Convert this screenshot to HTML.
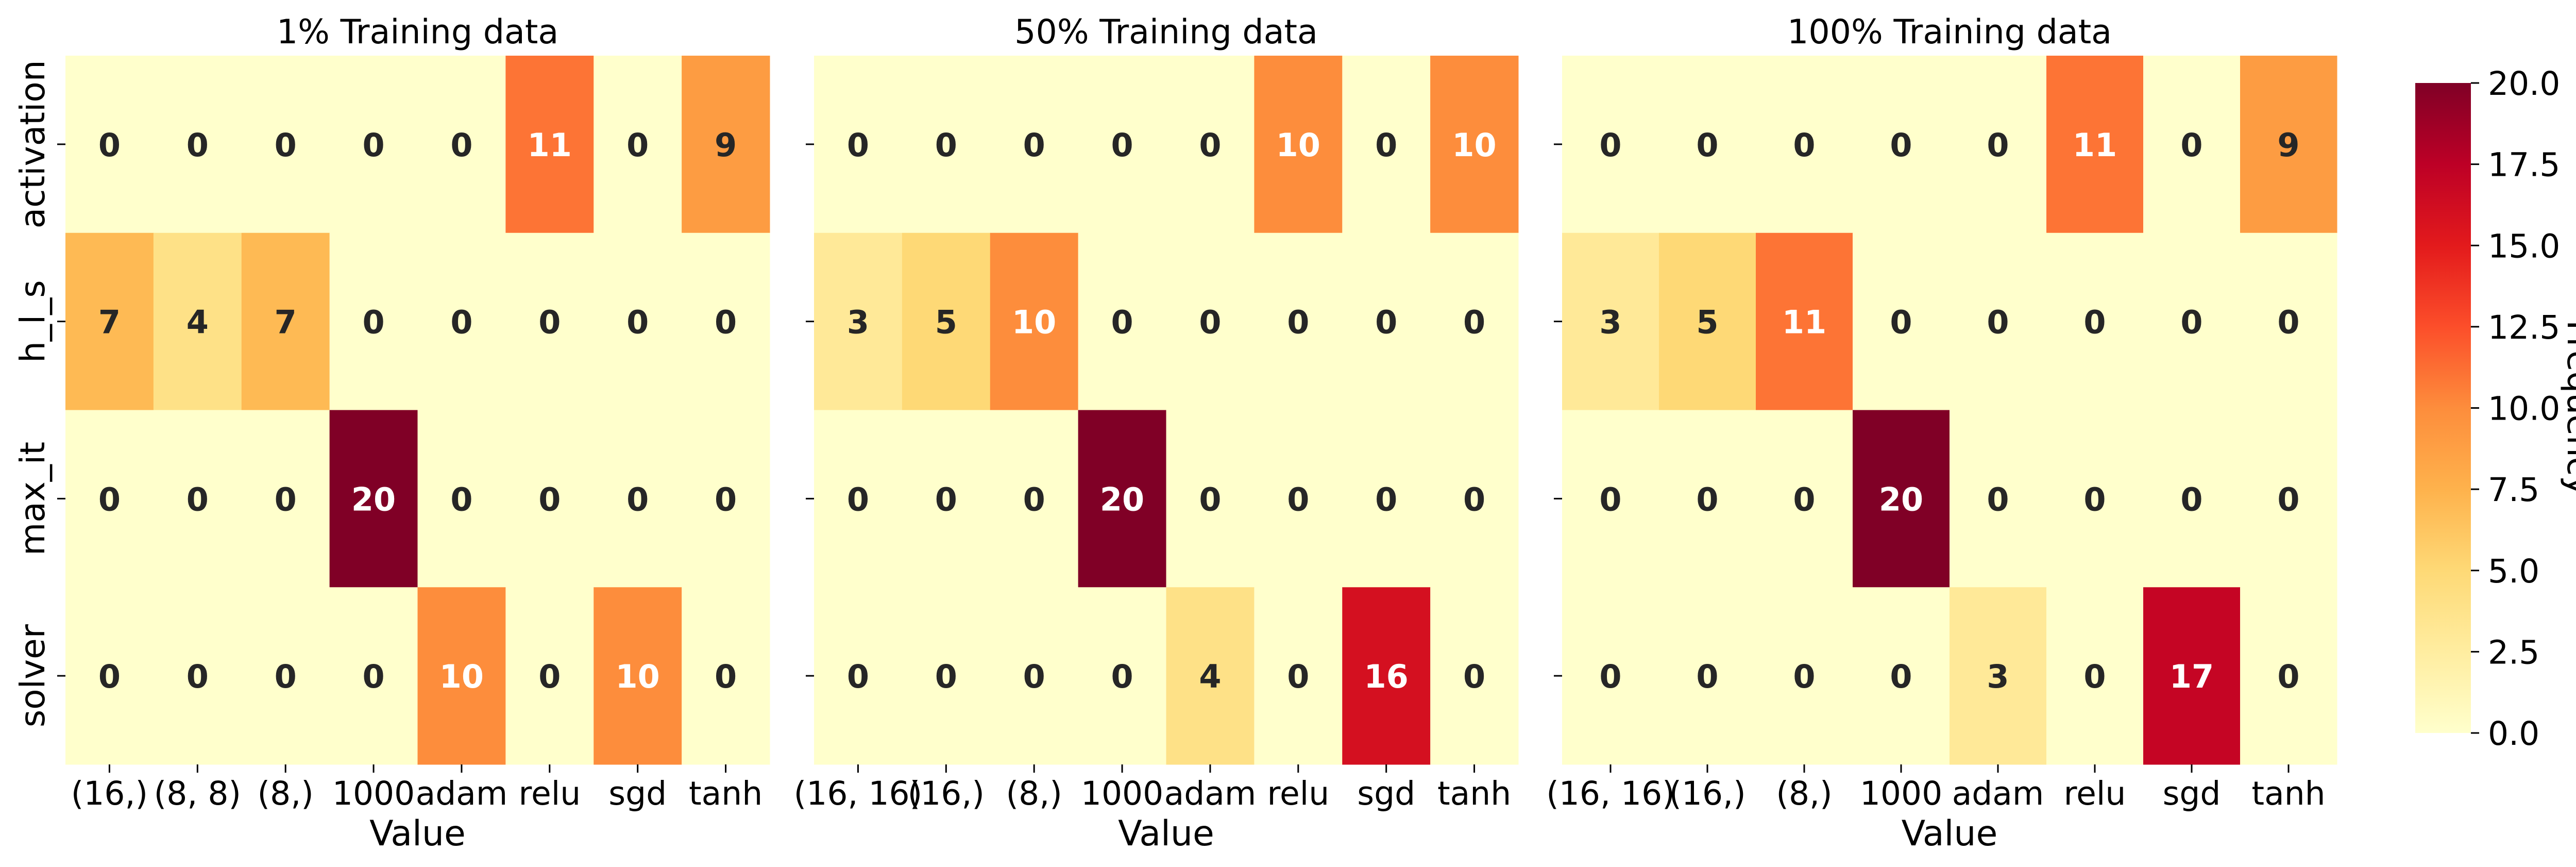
<!DOCTYPE html>
<html><head><meta charset="utf-8">
<style>
html,body{margin:0;padding:0;background:#fff;}
svg{display:block;font-family:"DejaVu Sans","Liberation Sans",sans-serif;}
</style></head>
<body>
<svg id="fig" width="5066" height="1682" viewBox="0 0 5066 1682" xmlns="http://www.w3.org/2000/svg"></svg>
<script>
const rowLabels = ["activation","h_l_s","max_it","solver"];
const cols1 = ["(16,)","(8, 8)","(8,)","1000","adam","relu","sgd","tanh"];
const cols2 = ["(16, 16)","(16,)","(8,)","1000","adam","relu","sgd","tanh"];
const cols3 = ["(16, 16)","(16,)","(8,)","1000","adam","relu","sgd","tanh"];
const vals1 = [[0,0,0,0,0,11,0,9],[7,4,7,0,0,0,0,0],[0,0,0,20,0,0,0,0],[0,0,0,0,10,0,10,0]];
const vals2 = [[0,0,0,0,0,10,0,10],[3,5,10,0,0,0,0,0],[0,0,0,20,0,0,0,0],[0,0,0,0,4,0,16,0]];
const vals3 = [[0,0,0,0,0,11,0,9],[3,5,11,0,0,0,0,0],[0,0,0,20,0,0,0,0],[0,0,0,0,3,0,17,0]];
const titles = ["1% Training data","50% Training data","100% Training data"];
const cbTicks = [0,2.5,5,7.5,10,12.5,15,17.5,20];
const vmin = 0, vmax = 20;

const NS="http://www.w3.org/2000/svg";
const svg=document.getElementById('fig');
function mk(tag,attrs,parent){const e=document.createElementNS(NS,tag);for(const k in attrs)e.setAttribute(k,attrs[k]);(parent||svg).appendChild(e);return e;}
const stops=["#ffffcc","#ffeda0","#fed976","#feb24c","#fd8d3c","#fc4e2a","#e31a1c","#bd0026","#800026"];
function hex(h){return [1,3,5].map(i=>parseInt(h.substr(i,2),16));}
function cmapRGB(v){let t=(v-vmin)/(vmax-vmin);t=Math.max(0,Math.min(1,t));const p=t*(stops.length-1);const i=Math.min(Math.floor(p),stops.length-2);const f=p-i;const a=hex(stops[i]),b=hex(stops[i+1]);return a.map((x,k)=>Math.round(x+(b[k]-x)*f));}
function cmap(v){const c=cmapRGB(v);return `rgb(${c[0]},${c[1]},${c[2]})`;}
function lum(c){const l=c.map(x=>{x/=255;return x<=0.03928?x/12.92:Math.pow((x+0.055)/1.055,2.4);});return 0.2126*l[0]+0.7152*l[1]+0.0722*l[2];}

const panels=[{x0:127,x1:1494,cols:cols1,vals:vals1},{x0:1580,x1:2947,cols:cols2,vals:vals2},{x0:3032,x1:4536,cols:cols3,vals:vals3}];
const y0=108,y1=1483;
panels.forEach((p,pi)=>{
  const g=mk('g',{});
  
  
  const cw=(p.x1-p.x0)/p.cols.length, ch=(y1-y0)/rowLabels.length;
  const xS=j=>p.x0+j*cw, yS=i=>y0+i*ch;
  p.vals.forEach((row,i)=>row.forEach((v,j)=>{
    const r=mk('rect',{x:xS(j),y:yS(i),width:cw+0.5,height:ch+0.5,fill:cmap(v)},g);
    
    
    const dark=lum(cmapRGB(v))>0.408;
    const t=mk('text',{x:xS(j)+cw/2,y:yS(i)+ch/2+23,'text-anchor':'middle','font-size':62,'font-weight':'bold',fill:dark?'#262626':'#ffffff'},g);
    
    
    t.textContent=v;
  }));
  rowLabels.forEach((lab,i)=>{
    const yc=yS(i)+ch/2;
    mk('line',{x1:p.x0-16,x2:p.x0,y1:yc,y2:yc,stroke:'#000','stroke-width':3},g);
    if(pi===0){
      const t=mk('text',{x:0,y:0,transform:`translate(86,${yc}) rotate(-90)`,'text-anchor':'middle','font-size':66,fill:'#000'},g);
      
      
      t.textContent=lab;
    }
  });
  p.cols.forEach((lab,j)=>{
    const xc=xS(j)+cw/2;
    mk('line',{x1:xc,x2:xc,y1:y1,y2:y1+16,stroke:'#000','stroke-width':3},g);
    const t=mk('text',{x:xc,y:1561,'text-anchor':'middle','font-size':63,fill:'#000'},g);
    
    
    t.textContent=lab;
  });
  const xt=mk('text',{x:(p.x0+p.x1)/2,y:1640,'text-anchor':'middle','font-size':68,fill:'#000'},g);
  
  
  xt.textContent='Value';
  const tt=mk('text',{x:(p.x0+p.x1)/2,y:84,'text-anchor':'middle','font-size':65,fill:'#000'},g);
  
  
  tt.textContent=titles[pi];
});

// colorbar
const cb=mk('g',{});


const cbx0=4688,cbx1=4796,cby0=161,cby1=1422;
const defs=mk('defs',{},cb);
const lg=mk('linearGradient',{id:'cbg',x1:0,y1:1,x2:0,y2:0},defs);
stops.forEach((s,i)=>mk('stop',{offset:(i/(stops.length-1)),'stop-color':s},lg));
mk('rect',{x:cbx0,y:cby0,width:cbx1-cbx0,height:cby1-cby0,fill:'url(#cbg)'},cb);
const cyS=v=>cby1-(v-vmin)/(vmax-vmin)*(cby1-cby0);
cbTicks.forEach(v=>{
  const y=cyS(v);
  mk('line',{x1:cbx1,x2:cbx1+16,y1:y,y2:y,stroke:'#000','stroke-width':3},cb);
  const t=mk('text',{x:4829,y:y+23,'font-size':63,fill:'#000'},cb);
  
  
  t.textContent=v.toFixed(1);
});
const ft=mk('text',{x:0,y:0,transform:`translate(4984,${(cby0+cby1)/2}) rotate(90)`,'text-anchor':'middle','font-size':66,fill:'#000'},cb);


ft.textContent='Frequency';
</script>
</body></html>
